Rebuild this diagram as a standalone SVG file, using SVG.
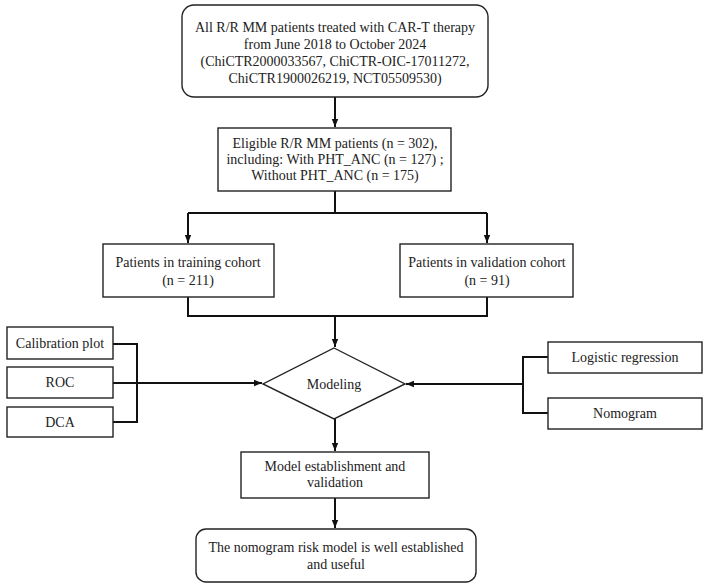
<svg xmlns="http://www.w3.org/2000/svg" width="708" height="587" viewBox="0 0 708 587">
<style>
.box{fill:#fff;stroke:#222;stroke-width:1.4}
.t{font-family:"Liberation Serif","Times New Roman",serif;font-size:14px;fill:#222;text-anchor:middle}
.c{fill:none;stroke:#111;stroke-width:2}
</style>
<defs>
<marker id="ah" viewBox="0 0 10 10" refX="10" refY="5" markerWidth="5" markerHeight="5" orient="auto" markerUnits="userSpaceOnUse">
<path d="M0,0 L10,5 L0,10 z" fill="#111"/>
</marker>
<marker id="arr" viewBox="0 0 10 10" refX="10" refY="5" markerWidth="8" markerHeight="8" orient="auto" markerUnits="userSpaceOnUse">
<path d="M0,1 L10,5 L0,9 z" fill="#111"/>
</marker>
</defs>
<rect width="708" height="587" fill="#fff"/>
<g id="connectors">
<path class="c" d="M335,97 V127" marker-end="url(#arr)"/>
<path class="c" d="M335,191 V213"/>
<path class="c" d="M188,213 H487"/>
<path class="c" d="M188,213 V243" marker-end="url(#arr)"/>
<path class="c" d="M487,213 V243" marker-end="url(#arr)"/>
<path class="c" d="M188,297 V316 H487 V297"/>
<path class="c" d="M335,316 V347" marker-end="url(#arr)"/>
<path class="c" d="M113,344 H137 V422 H113"/>
<path class="c" d="M113,383 H262" marker-end="url(#arr)"/>
<path class="c" d="M548,357 H523 V413 H548"/>
<path class="c" d="M523,384 H406" marker-end="url(#arr)"/>
<path class="c" d="M335,419 V451" marker-end="url(#arr)"/>
<path class="c" d="M335,498 V528" marker-end="url(#arr)"/>
</g>
<g id="n1">
<rect class="box" x="182" y="5" width="306" height="92" rx="12"/>
<text class="t" x="335" y="32">All R/R MM patients treated with CAR-T therapy</text>
<text class="t" x="335" y="49">from June 2018 to October 2024</text>
<text class="t" x="335" y="66">(ChiCTR2000033567, ChiCTR-OIC-17011272,</text>
<text class="t" x="335" y="83">ChiCTR1900026219, NCT05509530)</text>
</g>
<g id="n2">
<rect class="box" x="218" y="128" width="233" height="63"/>
<text class="t" x="335" y="148">Eligible R/R MM patients (n = 302),</text>
<text class="t" x="335" y="164">including: With PHT_ANC (n = 127) ;</text>
<text class="t" x="335" y="180">Without PHT_ANC (n = 175)</text>
</g>
<g id="n3">
<rect class="box" x="103" y="244" width="171" height="53"/>
<text class="t" x="188" y="267">Patients in training cohort</text>
<text class="t" x="188" y="285">(n = 211)</text>
</g>
<g id="n4">
<rect class="box" x="400" y="244" width="173" height="53"/>
<text class="t" x="487" y="267">Patients in validation cohort</text>
<text class="t" x="487" y="285">(n = 91)</text>
</g>
<g id="n5">
<rect class="box" x="7" y="327" width="106" height="32"/>
<text class="t" x="60" y="348">Calibration plot</text>
</g>
<g id="n6">
<rect class="box" x="7" y="367" width="106" height="31"/>
<text class="t" x="60" y="387">ROC</text>
</g>
<g id="n7">
<rect class="box" x="7" y="407" width="106" height="30"/>
<text class="t" x="60" y="427">DCA</text>
</g>
<g id="n8">
<polygon class="box" points="334,348 405,384 334,419 263,384"/>
<text class="t" x="334" y="389">Modeling</text>
</g>
<g id="n9">
<rect class="box" x="548" y="342" width="154" height="31"/>
<text class="t" x="625" y="362">Logistic regression</text>
</g>
<g id="n10">
<rect class="box" x="548" y="398" width="154" height="31"/>
<text class="t" x="625" y="418">Nomogram</text>
</g>
<g id="n11">
<rect class="box" x="241" y="452" width="188" height="46"/>
<text class="t" x="335" y="471">Model establishment and</text>
<text class="t" x="335" y="487">validation</text>
</g>
<g id="n12">
<rect class="box" x="196" y="529" width="280" height="53" rx="10"/>
<text class="t" x="336" y="552">The nomogram risk model is well established</text>
<text class="t" x="336" y="569">and useful</text>
</g>
</svg>
